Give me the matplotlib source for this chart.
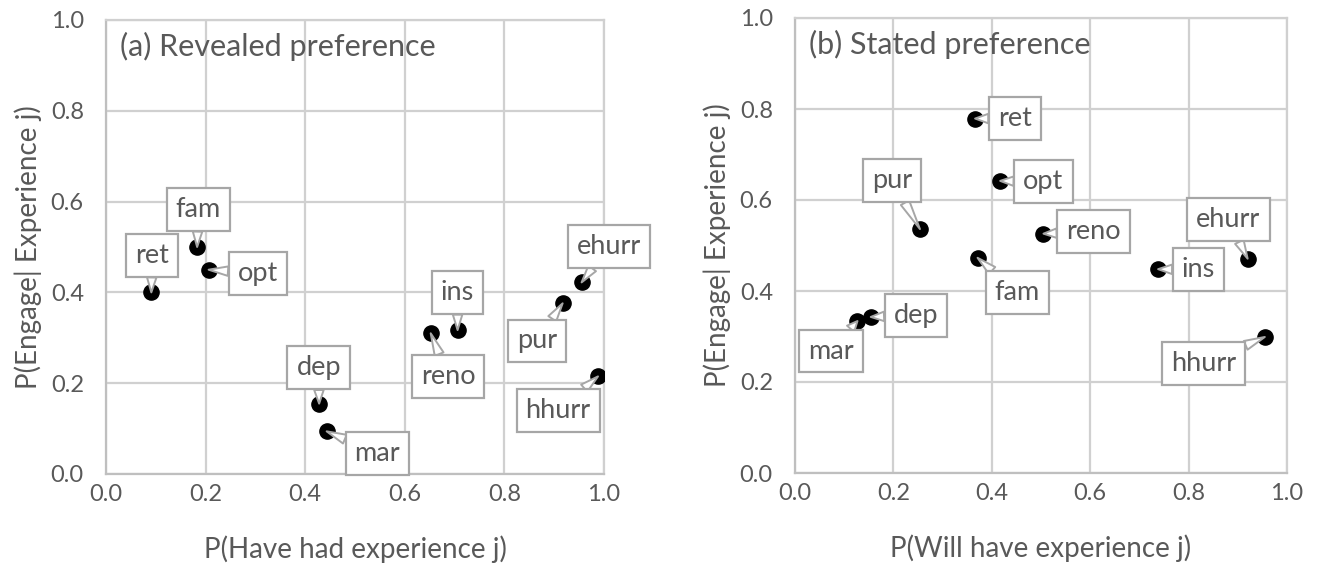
import matplotlib
matplotlib.use("Agg")
import matplotlib.pyplot as plt

plt.rcParams['font.family'] = ['Lato', 'DejaVu Sans']

# Panel (a) revealed preference
labels_a = ["ret", "fam", "opt", "dep", "mar", "ins", "reno", "pur", "ehurr", "hhurr"]
x_a = [0.091, 0.183, 0.206, 0.428, 0.443, 0.706, 0.652, 0.917, 0.955, 0.988]
y_a = [0.400, 0.500, 0.450, 0.155, 0.094, 0.317, 0.310, 0.376, 0.422, 0.215]
# label box centres (data coords)
lx_a = [0.093, 0.185, 0.305, 0.427, 0.545, 0.706, 0.687, 0.866, 1.010, 0.908]
ly_a = [0.482, 0.583, 0.442, 0.234, 0.046, 0.400, 0.215, 0.293, 0.502, 0.140]

# Panel (b) stated preference
labels_b = ["ret", "opt", "pur", "reno", "fam", "ins", "ehurr", "dep", "mar", "hhurr"]
x_b = [0.366, 0.417, 0.254, 0.505, 0.371, 0.738, 0.920, 0.154, 0.127, 0.955]
y_b = [0.779, 0.642, 0.536, 0.526, 0.473, 0.448, 0.471, 0.343, 0.334, 0.299]
lx_b = [0.447, 0.505, 0.198, 0.607, 0.452, 0.820, 0.881, 0.246, 0.073, 0.830]
ly_b = [0.779, 0.640, 0.643, 0.530, 0.396, 0.447, 0.557, 0.347, 0.268, 0.240]

ticks = [0.0, 0.2, 0.4, 0.6, 0.8, 1.0]
tick_labels = ["0.0", "0.2", "0.4", "0.6", "0.8", "1.0"]

TXT = "#595959"
GRID = "#d0d0d0"
EDGE = "#a6a6a6"

W, H = 1324, 571
fig = plt.figure(figsize=(W / 100, H / 100), dpi=100)
axA = fig.add_axes([106 / W, (H - 474) / H, 498 / W, 454 / H])
axB = fig.add_axes([795 / W, (H - 473) / H, 492 / W, 455 / H])


def style(ax, xlabel, title):
    ax.set_xlim(0, 1)
    ax.set_ylim(0, 1)
    ax.set_xticks(ticks)
    ax.set_xticklabels(tick_labels)
    ax.set_yticks(ticks)
    ax.set_yticklabels(tick_labels)
    ax.grid(True, color=GRID, linewidth=1.6)
    ax.set_axisbelow(True)
    for s in ax.spines.values():
        s.set_color(GRID)
        s.set_linewidth(1.6)
    ax.spines['left'].set_color("#bfbfbf")
    ax.spines['bottom'].set_color("#bfbfbf")
    ax.tick_params(length=0, labelsize=17, labelcolor=TXT)
    ax.tick_params(axis='x', pad=7)
    ax.tick_params(axis='y', pad=16)
    ax.set_xlabel(xlabel, fontsize=20, color=TXT, labelpad=22)
    ax.set_ylabel("P(Engage| Experience j)", fontsize=20, color=TXT, labelpad=6)
    ax.text(0.028, 0.942, title, transform=ax.transAxes, fontsize=22,
            color=TXT, ha="left", va="center")


def plot_points(ax, labels, xs, ys, lxs, lys):
    ax.scatter(xs, ys, s=120, color="black", zorder=3)
    for lab, x, y, lx, ly in zip(labels, xs, ys, lxs, lys):
        ax.annotate(lab, xy=(x, y), xytext=(lx, ly), fontsize=19.5, color=TXT,
                    ha="center", va="center", zorder=4, annotation_clip=False,
                    bbox=dict(boxstyle="square,pad=0.33", fc="white", ec=EDGE, lw=1.6),
                    arrowprops=dict(arrowstyle="wedge,tail_width=0.35,shrink_factor=0.5",
                                    fc="white", ec=EDGE, lw=1.4,
                                    shrinkA=0, shrinkB=0))


style(axA, "P(Have had experience j)", "(a) Revealed preference")
style(axB, "P(Will have experience j)", "(b) Stated preference")
plot_points(axA, labels_a, x_a, y_a, lx_a, ly_a)
plot_points(axB, labels_b, x_b, y_b, lx_b, ly_b)

fig.savefig("out.png", dpi=100, facecolor="white")
